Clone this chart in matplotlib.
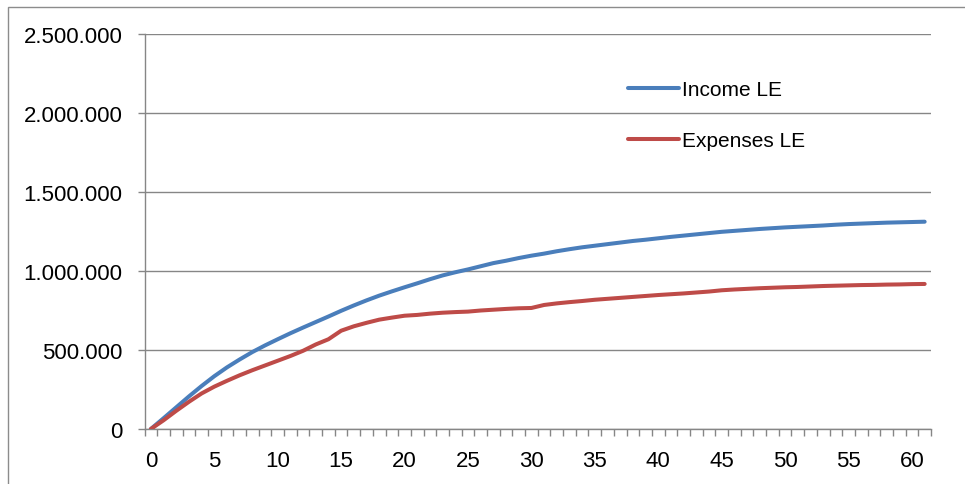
import matplotlib
matplotlib.use("Agg")
import matplotlib.pyplot as plt
from matplotlib.ticker import FixedLocator, FuncFormatter
from matplotlib.patches import Rectangle

# Periods (0..61) and cumulative amounts
periods = list(range(62))

income_le = [
    0, 68000, 137000, 206000, 272000, 334000, 390000, 440000, 487000, 529000,
    568000, 606000, 642000, 677000, 712000, 748000, 782000, 814000, 844000, 871000,
    897000, 922000, 948000, 972000, 992000, 1010000, 1030000, 1050000, 1065000, 1082000,
    1097000, 1110000, 1125000, 1138000, 1150000, 1160000, 1170000, 1180000, 1190000, 1198000,
    1207000, 1216000, 1224000, 1232000, 1240000, 1248000, 1254000, 1260000, 1266000, 1271000,
    1276000, 1280000, 1284000, 1288000, 1293000, 1297000, 1300000, 1303000, 1306000, 1308000,
    1310000, 1312000,
]

expenses_le = [
    0, 55000, 115000, 172000, 225000, 268000, 305000, 340000, 372000, 402000,
    432000, 462000, 495000, 535000, 568000, 622000, 650000, 672000, 692000, 705000,
    717000, 722000, 730000, 736000, 740000, 743000, 750000, 755000, 760000, 764000,
    766000, 785000, 795000, 803000, 810000, 818000, 824000, 830000, 836000, 842000,
    848000, 853000, 858000, 864000, 870000, 878000, 883000, 887000, 891000, 894000,
    897000, 899000, 902000, 905000, 907000, 909000, 911000, 912000, 914000, 915000,
    917000, 918000,
]

series_names = ["Income LE", "Expenses LE"]
x_labels = [0, 5, 10, 15, 20, 25, 30, 35, 40, 45, 50, 55, 60]
y_ticks = [0, 500000, 1000000, 1500000, 2000000, 2500000]

plt.rcParams["font.family"] = ["Liberation Sans", "DejaVu Sans"]

W, H = 965, 485
fig = plt.figure(figsize=(W / 100, H / 100), dpi=100)
fig.patch.set_facecolor("white")

# chart-area border (top and left edges visible)
fig.add_artist(Rectangle((8 / W, -0.5), 2.0, 1.5 - 8 / H,
                         transform=fig.transFigure, fill=False,
                         edgecolor="#8c8c8c", linewidth=1.0))

ax = fig.add_axes([144.5 / W, 1 - 430 / H, (931 - 144.5) / W, (430 - 35) / H])

grid_c = "#868686"
blue = "#4A7EBB"
red = "#BE4B48"

ax.plot(periods, income_le, color=blue, lw=2.9, solid_capstyle="round",
        label=series_names[0], zorder=3)
ax.plot(periods, expenses_le, color=red, lw=2.9, solid_capstyle="round",
        label=series_names[1], zorder=3)

ax.set_xlim(-0.5, len(periods) - 0.5)
ax.set_ylim(0, 2500000)

ax.yaxis.set_major_locator(FixedLocator(y_ticks))
ax.yaxis.set_major_formatter(FuncFormatter(lambda v, p: f"{int(v):,}".replace(",", ".")))
ax.grid(axis="y", color=grid_c, lw=1.0)
ax.set_axisbelow(True)

ax.xaxis.set_major_locator(FixedLocator(x_labels))
ax.xaxis.set_minor_locator(FixedLocator([i - 0.5 for i in range(len(periods) + 1)]))
ax.tick_params(axis="x", which="major", length=0, pad=15, labelsize=16, colors="black")
ax.tick_params(axis="x", which="minor", length=5, width=1.0, color=grid_c, direction="out")
ax.tick_params(axis="y", which="major", length=5, width=1.0, color=grid_c, pad=11,
               labelsize=16, labelcolor="black")

for s in ["top", "right"]:
    ax.spines[s].set_visible(False)
for s in ["left", "bottom"]:
    ax.spines[s].set_color(grid_c)
    ax.spines[s].set_linewidth(1.0)

leg = ax.legend(loc="upper left", bbox_to_anchor=(628 / W, 1 - 81 / H),
                bbox_transform=fig.transFigure, frameon=False, fontsize=15,
                handlelength=2.45, handletextpad=0.15, labelspacing=1.55,
                borderpad=0, borderaxespad=0)

fig.savefig("out.png", dpi=100, facecolor="white")
